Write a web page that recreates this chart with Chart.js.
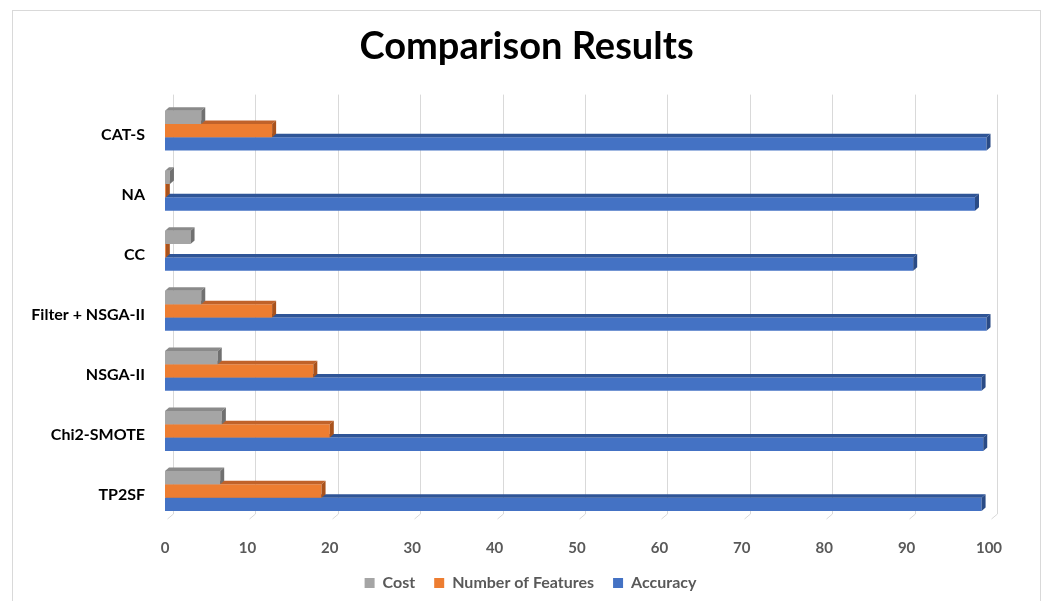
<!DOCTYPE html>
<html><head><meta charset="utf-8">
<script src="https://cdn.jsdelivr.net/npm/chart.js@4.4.0/dist/chart.umd.min.js"></script>
<style>
html,body{margin:0;padding:0;background:#fff;}
#wrap{position:relative;width:1044px;height:601px;overflow:hidden;}
#frame{position:absolute;left:12px;top:10px;width:1029px;height:640px;border:1px solid #d9d9d9;box-sizing:border-box;pointer-events:none;}
canvas{position:absolute;left:0;top:0;}
</style></head><body>
<div id="wrap"><canvas id="c" width="1044" height="601"></canvas><div id="frame"></div></div>
<script>
const categories = ['CAT-S', 'NA', 'CC', 'Filter + NSGA-II', 'NSGA-II', 'Chi2-SMOTE', 'TP2SF'];
const costValues = [4.4, 0.6, 3.1, 4.4, 6.4, 6.9, 6.7];
const featureValues = [13, 0.1, 0.1, 13, 18, 20, 19];
const accuracyValues = [99.7, 98.3, 90.8, 99.7, 99.1, 99.3, 99.1];
const seriesNames = ['Cost', 'Number of Features', 'Accuracy'];
const xTickMin = 0, xTickMax = 100, xTickStep = 10;

const frontColors = ['#a5a5a5', '#ed7d31', '#4472c4'];
const faceColors = [['#8a8a8a', '#707070'], ['#c0622a', '#a9521c'], ['#2f5597', '#2a4b86']];
const DX = 4, DY = 3.5;

const bar3d = {
  id: 'bar3d',
  afterLayout(chart) {
    const lg = chart.legend;
    if (lg) { lg.left += 36; lg.right += 36; }
    const tb = chart.titleBlock;
    if (tb) { tb.left += 32; tb.right += 32; }
  },
  beforeDatasetsDraw(chart) {
    const xs = chart.scales.x, a = chart.chartArea, ctx = chart.ctx;
    ctx.save();
    ctx.strokeStyle = '#d9d9d9';
    ctx.lineWidth = 1;
    for (let v = xTickMin; v <= xTickMax; v += xTickStep) {
      const x = Math.round(xs.getPixelForValue(v)) + 8.5;
      ctx.beginPath();
      ctx.moveTo(x, a.top - 6);
      ctx.lineTo(x, a.bottom - 7);
      ctx.lineTo(x - 6, a.bottom - 2);
      ctx.stroke();
    }
    ctx.restore();
  },
  afterDatasetDraw(chart, args) {
    const meta = args.meta, ctx = chart.ctx;
    const [topC, sideC] = faceColors[args.index];
    ctx.save();
    meta.data.forEach(el => {
      const p = el.getProps(['x', 'y', 'base', 'height'], true);
      const x0 = Math.min(p.base, p.x), x1 = Math.max(p.base, p.x);
      const yt = p.y - p.height / 2, yb = p.y + p.height / 2;
      ctx.fillStyle = topC;
      ctx.beginPath();
      ctx.moveTo(x0, yt); ctx.lineTo(x1, yt); ctx.lineTo(x1 + DX, yt - DY); ctx.lineTo(x0 + DX, yt - DY);
      ctx.closePath(); ctx.fill();
      ctx.fillStyle = sideC;
      ctx.beginPath();
      ctx.moveTo(x1, yt); ctx.lineTo(x1 + DX, yt - DY); ctx.lineTo(x1 + DX, yb - DY); ctx.lineTo(x1, yb);
      ctx.closePath(); ctx.fill();
    });
    ctx.restore();
  }
};

const seriesData = [costValues, featureValues, accuracyValues];
new Chart(document.getElementById('c'), {
  type: 'bar',
  data: {
    labels: categories,
    datasets: seriesNames.map((n, i) => ({
      label: n,
      data: seriesData[i],
      backgroundColor: frontColors[i],
      borderWidth: 0,
      categoryPercentage: 0.665,
      barPercentage: 1.0
    }))
  },
  options: {
    indexAxis: 'y',
    responsive: false,
    devicePixelRatio: 1,
    animation: false,
    layout: { padding: { left: 0, right: 55, top: 10, bottom: 0 } },
    plugins: {
      title: {
        display: true,
        text: 'Comparison Results',
        color: '#000',
        font: { family: 'Lato', weight: 'bold', size: 38 },
        padding: { top: 14, bottom: 31 }
      },
      legend: {
        position: 'bottom',
        labels: {
          boxWidth: 10, boxHeight: 10,
          color: '#595959',
          font: { family: 'Lato', weight: 'bold', size: 16 },
          padding: 19
        }
      },
      tooltip: { enabled: false }
    },
    scales: {
      x: {
        type: 'linear',
        min: xTickMin, max: xTickMax,
        ticks: { stepSize: xTickStep, color: '#595959', font: { family: 'Lato', weight: 'bold', size: 15 }, padding: 18 },
        grid: { display: false, drawTicks: false },
        border: { display: false },
        afterFit: s => { s.height = 35; }
      },
      y: {
        ticks: { color: '#000', font: { family: 'Lato', weight: 'bold', size: 16 }, padding: 20, labelOffset: 4 },
        grid: { display: false, drawTicks: false },
        border: { display: false },
        afterFit: s => { s.width = 165; }
      }
    }
  },
  plugins: [bar3d]
});
</script>
</body></html>
